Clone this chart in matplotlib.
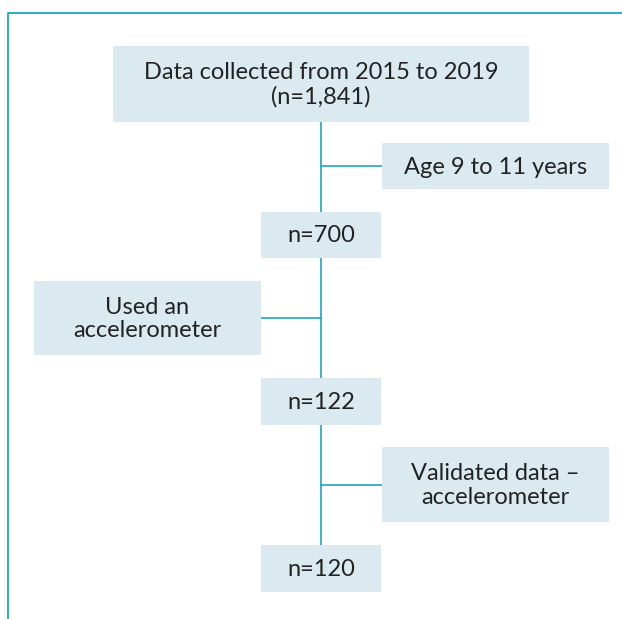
import matplotlib.pyplot as plt
from matplotlib.patches import Rectangle

# flow steps (main column) and exclusion steps (side boxes)
main_labels = ['Data collected from 2015 to 2019\n(n=1,841)', 'n=700', 'n=122', 'n=120']
side_labels = ['Age 9 to 11 years', 'Used an\naccelerometer', 'Validated data –\naccelerometer']

box_color = '#dbeaf1'
line_color = '#1ea6c1'
text_color = '#222222'

plt.rcParams['font.family'] = ['Lato', 'DejaVu Sans']

fig = plt.figure(figsize=(6.22, 6.19), dpi=100)
ax = fig.add_axes([0, 0, 1, 1])
ax.set_xlim(0, 622)
ax.set_ylim(619, 0)
ax.axis('off')

# layout in pixels: (x0, y0, x1, y1)
main_boxes = [(113, 46, 529, 122), (261, 212, 381, 258), (261, 378, 381, 425), (261, 545, 381, 592)]
side_boxes = [(382, 143, 609, 189), (34, 281, 261, 355), (382, 447, 609, 522)]
center_x = 321
fs = 17

# outer frame
ax.plot([8, 8, 622], [619, 13, 13], color=line_color, lw=1.3, solid_capstyle='butt')

# spine of the flow
ax.plot([center_x, center_x], [main_boxes[0][3], main_boxes[-1][1]], color=line_color, lw=1.2, zorder=1)

for (x0, y0, x1, y1), label in zip(main_boxes, main_labels):
    ax.add_patch(Rectangle((x0, y0), x1 - x0, y1 - y0, facecolor=box_color, edgecolor='none', zorder=2))
    ax.text((x0 + x1) / 2, (y0 + y1) / 2 + 1, label, ha='center', va='center', fontsize=fs,
            color=text_color, linespacing=1.15, zorder=3)

for (x0, y0, x1, y1), label in zip(side_boxes, side_labels):
    ym = (y0 + y1) / 2
    if x0 > center_x:
        ax.plot([center_x, x0], [ym, ym], color=line_color, lw=1.2, zorder=1)
    else:
        ax.plot([x1, center_x], [ym, ym], color=line_color, lw=1.2, zorder=1)
    ax.add_patch(Rectangle((x0, y0), x1 - x0, y1 - y0, facecolor=box_color, edgecolor='none', zorder=2))
    ax.text((x0 + x1) / 2, ym + 1, label, ha='center', va='center', fontsize=fs,
            color=text_color, linespacing=1.15, zorder=3)

fig.savefig('out.png', dpi=100, facecolor='white')
